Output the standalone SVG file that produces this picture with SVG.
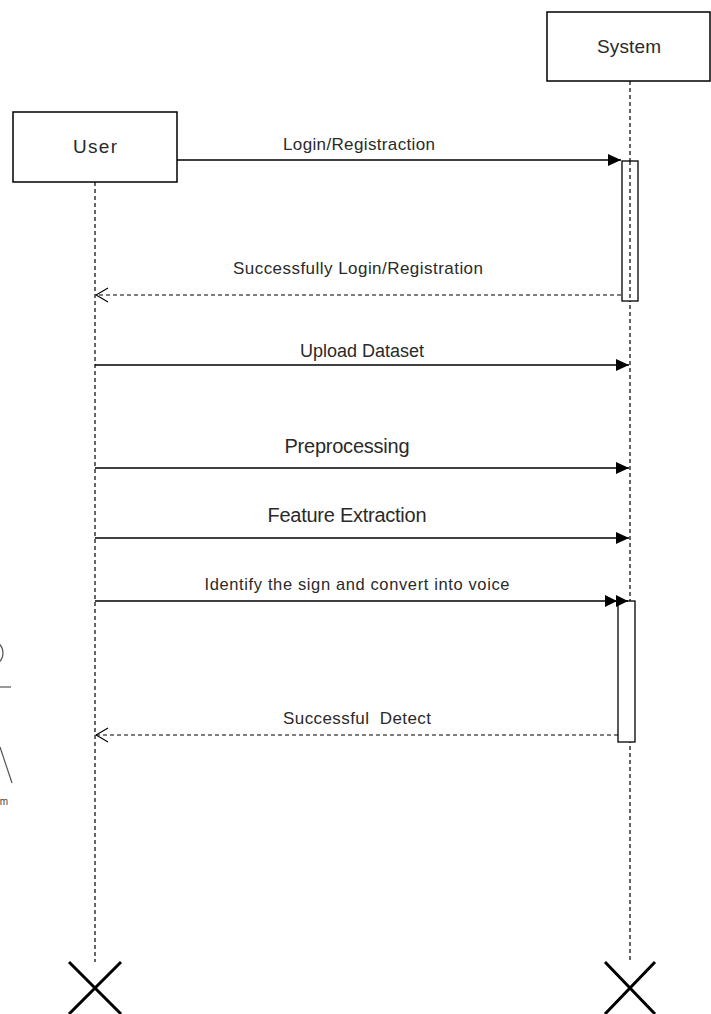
<svg xmlns="http://www.w3.org/2000/svg" width="711" height="1014" viewBox="0 0 711 1014">
<defs>
<style>
.box{fill:#fff;stroke:#000;stroke-width:1.5}
.life{stroke:#000;stroke-width:1.2;stroke-dasharray:4 3;fill:none}
.msg{stroke:#000;stroke-width:1.3;fill:none}
.ret{stroke:#000;stroke-width:1.2;stroke-dasharray:4 3;fill:none}
.t{font-family:"Liberation Sans",Arial,sans-serif;fill:#2a2a2a;text-anchor:middle}
.x{stroke:#000;stroke-width:3;fill:none}
.act{fill:#fff;stroke:#000;stroke-width:1.3}
</style>
<marker id="fill" markerWidth="14" markerHeight="12" refX="13" refY="6" orient="auto" markerUnits="userSpaceOnUse">
<path d="M0,0 L13,6 L0,12 Z" fill="#000"/>
</marker>
<marker id="dbl" markerWidth="24" markerHeight="12" refX="23" refY="6" orient="auto" markerUnits="userSpaceOnUse">
<path d="M0,0 L12,6 L0,12 Z M11,0 L23,6 L11,12 Z" fill="#000"/>
</marker>
<marker id="open" markerWidth="14" markerHeight="16" refX="13" refY="8" orient="auto" markerUnits="userSpaceOnUse">
<path d="M1,1 L13,8 L1,15" fill="none" stroke="#000" stroke-width="1.2"/>
</marker>
</defs>
<rect width="711" height="1014" fill="#fff"/>
<g id="partial-actor" stroke="#555" stroke-width="1.2" fill="none">
<circle cx="-10" cy="653" r="13"/>
<line x1="0" y1="687" x2="11" y2="687"/>
<line x1="0" y1="747" x2="12" y2="783"/>
<text x="4" y="805" font-family="'Liberation Sans',sans-serif" font-size="10" fill="#444" stroke="none" text-anchor="middle">m</text>
</g>
<g id="lifelines">
<line class="life" x1="95" y1="182" x2="95" y2="962"/>
<line class="life" x1="630" y1="81" x2="630" y2="962"/>
</g>
<g id="user">
<rect class="box" x="13" y="112" width="164" height="70"/>
<text class="t" x="95" y="153" font-size="19" textLength="44">User</text>
</g>
<g id="system">
<rect class="box" x="547" y="12" width="163" height="69"/>
<text class="t" x="629" y="53" font-size="19" textLength="64">System</text>
</g>
<g id="activations">
<rect class="act" x="622" y="161" width="16" height="140"/>
<line class="life" x1="630" y1="161" x2="630" y2="301"/>
<rect class="act" x="618" y="601" width="17" height="141"/>
</g>
<g id="connectors">
<line class="msg" x1="177" y1="160" x2="621" y2="160" marker-end="url(#fill)"/>
<line class="ret" x1="621" y1="295" x2="96" y2="295" marker-end="url(#open)"/>
<line class="msg" x1="95" y1="365" x2="629" y2="365" marker-end="url(#fill)"/>
<line class="msg" x1="95" y1="468" x2="629" y2="468" marker-end="url(#fill)"/>
<line class="msg" x1="95" y1="538" x2="629" y2="538" marker-end="url(#fill)"/>
<line class="msg" x1="95" y1="601" x2="628" y2="601" marker-end="url(#dbl)"/>
<line class="ret" x1="618" y1="735" x2="96" y2="735" marker-end="url(#open)"/>
</g>
<g id="labels">
<text class="t" x="359" y="150" font-size="17" textLength="152">Login/Registraction</text>
<text class="t" x="358" y="274" font-size="17" textLength="250">Successfully Login/Registration</text>
<text class="t" x="362" y="357" font-size="18">Upload Dataset</text>
<text class="t" x="347" y="453" font-size="20" textLength="125">Preprocessing</text>
<text class="t" x="347" y="522" font-size="20" textLength="159">Feature Extraction</text>
<text class="t" x="357" y="590" font-size="16.5" textLength="305">Identify the sign and convert into voice</text>
<text class="t" x="357" y="724" font-size="17" textLength="148" xml:space="preserve">Successful  Detect</text>
</g>
<g id="destroy">
<path class="x" d="M69,962 L121,1014 M121,962 L69,1014"/>
<path class="x" d="M605,962 L655,1014 M655,962 L605,1014"/>
</g>
</svg>
